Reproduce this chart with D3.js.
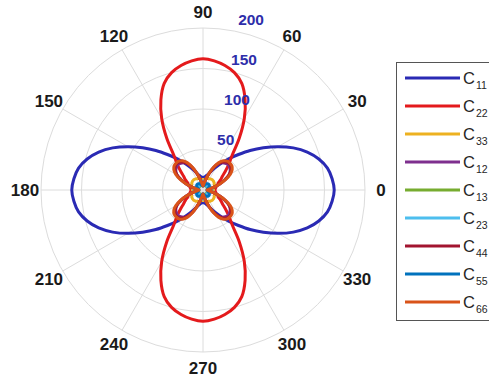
<!DOCTYPE html>
<html>
<head>
<meta charset="utf-8">
<script src="https://cdn.jsdelivr.net/npm/d3@7/dist/d3.min.js"></script>
<style>
  html, body { margin: 0; padding: 0; background: #ffffff; }
  svg { display: block; }
  text { font-family: "Liberation Sans", Arial, Helvetica, sans-serif; }
</style>
</head>
<body>
<svg id="chart" width="489" height="383"></svg>
<script>
// Polar angles (degrees, counter-clockwise from 0 at the right)
const thetaDeg = d3.range(0, 360, 5);

// Stiffness coefficients sampled every 5 degrees
const C11 = [162,160,156,148,137,123,107,91,76,62,51,41,33,27,22,19,17,16,15,
             16,17,19,22,27,33,41,51,62,76,91,107,123,137,148,156,160,
             162,160,156,148,137,123,107,91,76,62,51,41,33,27,22,19,17,16,15,
             16,17,19,22,27,33,41,51,62,76,91,107,123,137,148,156,160];
const C22 = [15,15,16,17,19,21,25,29,36,45,56,78,102,123,140,150,156,160,162,
             160,156,150,140,123,102,78,56,45,36,29,25,21,19,17,16,15,
             15,15,16,17,19,21,25,29,36,45,56,78,102,123,140,150,156,160,162,
             160,156,150,140,123,102,78,56,45,36,29,25,21,19,17,16,15];
const C33 = [13,13,13.5,14,15,15.5,16,16.5,17,17,17,16.5,16,15.5,15,14,13.5,13,
             13,13,13.5,14,15,15.5,16,16.5,17,17,17,16.5,16,15.5,15,14,13.5,13,
             13,13,13.5,14,15,15.5,16,16.5,17,17,17,16.5,16,15.5,15,14,13.5,13,
             13,13,13.5,14,15,15.5,16,16.5,17,17,17,16.5,16,15.5,15,14,13.5,13];
const C12 = [6,7,10,15,22,30,37,41,43,44,43,41,37,30,22,15,10,7,
             6,7,10,15,22,30,37,41,43,44,43,41,37,30,22,15,10,7,
             6,7,10,15,22,30,37,41,43,44,43,41,37,30,22,15,10,7,
             6,7,10,15,22,30,37,41,43,44,43,41,37,30,22,15,10,7];
const C13 = [9,9,8.5,8,7.5,7,6.5,6,6,6,6,6,6.5,7,7.5,8,8.5,9,
             9,9,8.5,8,7.5,7,6.5,6,6,6,6,6,6.5,7,7.5,8,8.5,9,
             9,9,8.5,8,7.5,7,6.5,6,6,6,6,6,6.5,7,7.5,8,8.5,9,
             9,9,8.5,8,7.5,7,6.5,6,6,6,6,6,6.5,7,7.5,8,8.5,9];
const C23 = [11,11,10.5,10,9,8,7.5,7,7,7,7,7,7.5,8,9,10,10.5,11,
             11,11,10.5,10,9,8,7.5,7,7,7,7,7,7.5,8,9,10,10.5,11,
             11,11,10.5,10,9,8,7.5,7,7,7,7,7,7.5,8,9,10,10.5,11,
             11,11,10.5,10,9,8,7.5,7,7,7,7,7,7.5,8,9,10,10.5,11];
const C44 = [5,6,9,14,21,30,37,42,45,46,45,42,37,30,21,14,9,6,
             5,6,9,14,21,30,37,42,45,46,45,42,37,30,21,14,9,6,
             5,6,9,14,21,30,37,42,45,46,45,42,37,30,21,14,9,6,
             5,6,9,14,21,30,37,42,45,46,45,42,37,30,21,14,9,6];
const C55 = [5,5,5.5,6,7,8,9,9.5,10,10,10,9.5,9,8,7,6,5.5,5,
             5,5,5.5,6,7,8,9,9.5,10,10,10,9.5,9,8,7,6,5.5,5,
             5,5,5.5,6,7,8,9,9.5,10,10,10,9.5,9,8,7,6,5.5,5,
             5,5,5.5,6,7,8,9,9.5,10,10,10,9.5,9,8,7,6,5.5,5];
const C66 = [5,6,9,14,22,31,39,44,46.5,47,46.5,44,39,31,22,14,9,6,
             5,6,9,14,22,31,39,44,46.5,47,46.5,44,39,31,22,14,9,6,
             5,6,9,14,22,31,39,44,46.5,47,46.5,44,39,31,22,14,9,6,
             5,6,9,14,22,31,39,44,46.5,47,46.5,44,39,31,22,14,9,6];

const seriesNames = ["11","22","33","12","13","23","44","55","66"];
const seriesValues = [C11, C22, C33, C12, C13, C23, C44, C55, C66];
const seriesColors = ["#2a2ab4","#e41a1c","#edb120","#7e2f8e","#77ac30",
                      "#4dbeee","#a2142f","#0072bd","#d95319"];

const rTicks = [50, 100, 150, 200];
const angleTicks = [0, 30, 60, 90, 120, 150, 180, 210, 240, 270, 300, 330];

// ---- layout ----
const svg = d3.select("#chart");
const cx = 203, cy = 190;
const R = 162;
const r = d3.scaleLinear().domain([0, 200]).range([0, R]);
const toRad = d => d * Math.PI / 180;

const g = svg.append("g").attr("transform", `translate(${cx},${cy})`);

// grid: rings and spokes
const grid = g.append("g").attr("fill", "none").attr("stroke", "#dcdcdc").attr("stroke-width", 1);
grid.selectAll("circle").data(rTicks).join("circle").attr("r", d => r(d));
grid.selectAll("line").data(angleTicks).join("line")
  .attr("x1", 0).attr("y1", 0)
  .attr("x2", d => r(200) * Math.cos(toRad(d)))
  .attr("y2", d => -r(200) * Math.sin(toRad(d)));

// curves
const line = d3.lineRadial()
  .angle(d => Math.PI / 2 - toRad(d[0]))
  .radius(d => r(d[1]))
  .curve(d3.curveCatmullRomClosed.alpha(0.5));

g.append("g").selectAll("path")
  .data(seriesValues.map((vals, i) => ({ i, pts: thetaDeg.map((t, k) => [t, vals[k]]) })))
  .join("path")
  .attr("d", d => line(d.pts))
  .attr("fill", "none")
  .attr("stroke", d => seriesColors[d.i])
  .attr("stroke-width", 3)
  .attr("stroke-linejoin", "round");

// angle labels
const labelR = 178;
g.append("g").selectAll("text").data(angleTicks).join("text")
  .attr("x", d => labelR * Math.cos(toRad(d)))
  .attr("y", d => -labelR * Math.sin(toRad(d)))
  .attr("dy", "0.36em")
  .attr("text-anchor", "middle")
  .attr("font-size", 17)
  .attr("font-weight", "bold")
  .attr("fill", "#1a1a1a")
  .text(d => d);

// radial tick labels along 80 degrees
const rAxisAngle = toRad(80);
g.append("g").selectAll("text").data(rTicks).join("text")
  .attr("x", d => r(d) * Math.cos(rAxisAngle) + 7)
  .attr("y", d => -r(d) * Math.sin(rAxisAngle) - 5)
  .attr("font-size", 15.5)
  .attr("font-weight", "bold")
  .attr("fill", "#2e2eaa")
  .text(d => d);

// legend
const lg = svg.append("g");
lg.append("rect")
  .attr("x", 396.5).attr("y", 62.5)
  .attr("width", 130).attr("height", 258)
  .attr("fill", "#ffffff").attr("stroke", "#555555").attr("stroke-width", 1);
const item = lg.selectAll("g.item").data(seriesNames).join("g")
  .attr("class", "item")
  .attr("transform", (d, i) => `translate(0,${78 + i * 28})`);
item.append("line")
  .attr("x1", 405).attr("x2", 460).attr("y1", 0).attr("y2", 0)
  .attr("stroke", (d, i) => seriesColors[i]).attr("stroke-width", 3);
const lt = item.append("text").attr("x", 463).attr("y", 6)
  .attr("font-size", 16.5).attr("fill", "#262626");
lt.append("tspan").text("C");
lt.append("tspan").attr("x", 476).attr("y", 11).attr("font-size", 10.5).text(d => d);
</script>
</body>
</html>
